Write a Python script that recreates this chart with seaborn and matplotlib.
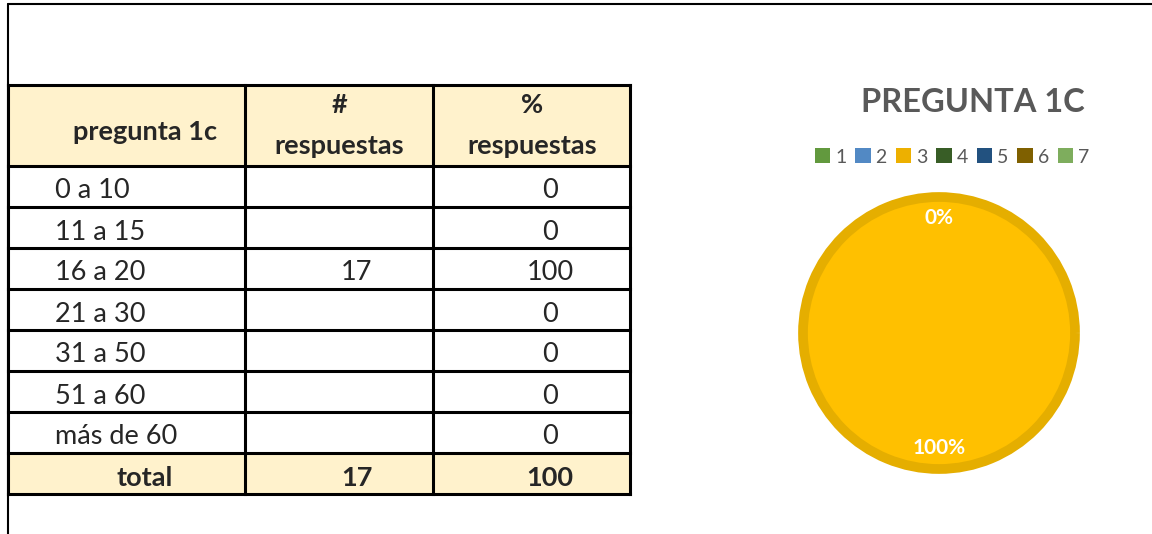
import matplotlib
matplotlib.use("Agg")
import matplotlib.pyplot as plt
from matplotlib.patches import Patch, Rectangle
import seaborn as sns

# table values
rangos = ["0 a 10", "11 a 15", "16 a 20", "21 a 30", "31 a 50", "51 a 60", "más de 60"]
num_resp = [None, None, 17, None, None, None, None]
pct_resp = [0, 0, 100, 0, 0, 0, 0]
headers = ["pregunta 1c", "#\nrespuestas", "%\nrespuestas"]

# pie series (Excel numbered the points 1..7)
pie_labels = ["1", "2", "3", "4", "5", "6", "7"]
pie_values = pct_resp
pie_title = "PREGUNTA 1C"

sns.set_theme(style="white")
plt.rcParams["font.family"] = ["Lato", "DejaVu Sans"]

palette = sns.color_palette(["#62993E", "#5289C4", "#EDB000", "#385D26",
                             "#22517F", "#7F6000", "#7EAD5D"])

W, H = 1152, 534
fig = plt.figure(figsize=(W / 100, H / 100), dpi=100)

# pixel-space background axes for the sheet grid
bg = fig.add_axes([0, 0, 1, 1])
bg.set_xlim(0, W)
bg.set_ylim(H, 0)
bg.axis("off")

LW = 2.2
# sheet frame
bg.plot([8, W], [4, 4], color="black", lw=1.5)
bg.plot([8, 8], [4, H], color="black", lw=1.5)

col_x = [8, 245, 433, 630]
top, head_bot, row_h = 85, 166, 41
n = len(rangos)
row_y = [head_bot + row_h * i for i in range(n + 2)]
bottom = row_y[-1]

fill = "#FFF2CC"
bg.add_patch(Rectangle((col_x[0], top), col_x[-1] - col_x[0], head_bot - top, color=fill, zorder=0))
bg.add_patch(Rectangle((col_x[0], row_y[n]), col_x[-1] - col_x[0], row_h, color=fill, zorder=0))

for y in [top] + row_y:
    bg.plot([col_x[0], col_x[-1]], [y, y], color="black", lw=LW, solid_capstyle="projecting")
for x in col_x:
    bg.plot([x, x], [top, bottom], color="black", lw=LW, solid_capstyle="projecting")

fs = 19.5
# header
bg.text(145, 132, headers[0], ha="center", va="center", fontsize=fs, fontweight="bold")
for cx, h in [(339, headers[1]), (532, headers[2])]:
    sym, word = h.split("\n")
    bg.text(cx, 105, sym, ha="center", va="center", fontsize=fs, fontweight="bold")
    bg.text(cx, 146, word, ha="center", va="center", fontsize=fs, fontweight="bold")

# body rows
for i, (r, c, p) in enumerate(zip(rangos, num_resp, pct_resp)):
    yc = row_y[i] + row_h / 2 + 4.5
    bg.text(55, yc, r, ha="left", va="center", fontsize=fs)
    if c is not None:
        bg.text(357, yc, str(c), ha="center", va="center", fontsize=fs)
    bg.text(550, yc, str(p), ha="center", va="center", fontsize=fs)

# totals
yc = row_y[n] + row_h / 2 + 4
total_n = sum(c for c in num_resp if c is not None)
total_p = sum(pct_resp)
bg.text(145, yc, "total", ha="center", va="center", fontsize=fs, fontweight="bold")
bg.text(357, yc, str(total_n), ha="center", va="center", fontsize=fs, fontweight="bold")
bg.text(550, yc, str(total_p), ha="center", va="center", fontsize=fs, fontweight="bold")

# pie chart
cx, cy, R = 939, 333, 141
ax = fig.add_axes([(cx - R) / W, (H - cy - R) / H, 2 * R / W, 2 * R / H])

seen = set()
def fmt(p):
    lab = f"{p:.0f}%"
    if lab in seen:
        return ""
    seen.add(lab)
    return lab

wedges, _, autotexts = ax.pie(
    pie_values,
    colors=["#FFC000"] * len(pie_values),
    startangle=90, counterclock=False,
    radius=136 / R,
    autopct=fmt, pctdistance=0.845,
    wedgeprops=dict(edgecolor="#E5AE00", linewidth=7.0),
    textprops=dict(color="white", fontweight="bold", fontsize=15),
)
for w, v in zip(wedges, pie_values):
    if v == 0:
        w.set_visible(False)
ax.set_xlim(-1, 1)
ax.set_ylim(-1, 1)
ax.set_aspect("equal")
ax.axis("off")

bg.text(973, 103, pie_title, ha="center", va="center", fontsize=23.5,
        fontweight="bold", color="#595959")

handles = [Patch(facecolor=c, edgecolor="none") for c in palette]
fig.legend(handles, pie_labels, loc="center", bbox_to_anchor=(952 / W, 1 - 157 / H),
           ncol=7, frameon=False, handlelength=0.8, handleheight=0.8,
           handletextpad=0.25, columnspacing=0.45, fontsize=14,
           labelcolor="#595959", borderpad=0)

fig.savefig("out.png", dpi=100)
